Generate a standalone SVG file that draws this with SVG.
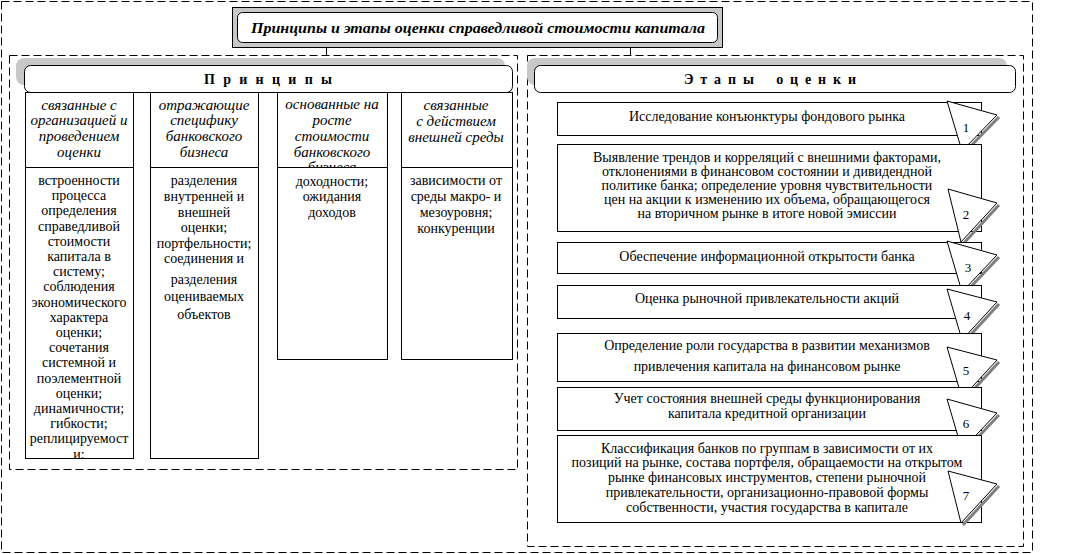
<svg xmlns="http://www.w3.org/2000/svg" width="1076" height="554" viewBox="0 0 1076 554">
<defs>
<style>
.dash{fill:none;stroke:#000;stroke-width:1;stroke-dasharray:8 4}
.box{fill:#fff;stroke:#000;stroke-width:1}
.shadow{fill:#c8c8c8;stroke:none}
.t{font-family:"Liberation Serif","Times New Roman",serif;font-size:14px;fill:#000;text-anchor:middle}
.it{font-family:"Liberation Serif","Times New Roman",serif;font-style:italic;font-size:15px;fill:#000;text-anchor:middle}
.hd{font-family:"Liberation Serif","Times New Roman",serif;font-weight:bold;font-size:14px;fill:#000;text-anchor:middle}
.num{font-family:"Liberation Serif","Times New Roman",serif;font-size:13px;fill:#000;text-anchor:middle}
.tri{fill:#fff;stroke:#000;stroke-width:1}
.trs{fill:none;stroke:#808080;stroke-width:3}
.conn{stroke:#000;stroke-width:1;fill:none}
</style>
<clipPath id="c3h"><rect x="277" y="92" width="110" height="75"/></clipPath>
<clipPath id="c1b"><rect x="25" y="167" width="108" height="292"/></clipPath>
</defs>

<g id="frames">
<rect class="dash" x="1.5" y="1.5" width="1031" height="551"/>
<rect class="dash" x="9.5" y="55.5" width="508" height="414"/>
<rect class="dash" x="527.5" y="55.5" width="496" height="491"/>
</g>

<g id="title">
<rect x="232.5" y="7.5" width="490" height="40" fill="#c8c8c8" stroke="#000"/>
<rect class="box" x="237.5" y="12.5" width="480" height="30" rx="5"/>
<text x="478" y="33" font-family="Liberation Serif, Times New Roman, serif" font-weight="bold" font-style="italic" font-size="15" text-anchor="middle" textLength="454" lengthAdjust="spacingAndGlyphs">Принципы и этапы оценки справедливой стоимости капитала</text>
</g>

<g id="connectors">
<line class="conn" x1="326.5" y1="47" x2="326.5" y2="55"/>
<line class="conn" x1="630.5" y1="47" x2="630.5" y2="55"/>
</g>

<g id="principles-header">
<rect class="shadow" x="16" y="58" width="489" height="27" rx="8"/>
<rect class="box" x="24.5" y="65.5" width="488" height="27" rx="6"/>
<text class="hd" x="268" y="84" textLength="128" lengthAdjust="spacing">П р и н ц и п ы</text>
</g>

<g id="principle-1">
<rect class="box" x="25.5" y="92.5" width="108" height="75"/>
<rect class="box" x="25.5" y="167.5" width="108" height="291"/>
<text class="it" x="79" y="110">связанные с</text>
<text class="it" x="79" y="125">организацией и</text>
<text class="it" x="79" y="141">проведением</text>
<text class="it" x="79" y="157">оценки</text>
<g clip-path="url(#c1b)">
<text class="t" x="79" y="185">встроенности</text>
<text class="t" x="79" y="200.2">процесса</text>
<text class="t" x="79" y="215.4">определения</text>
<text class="t" x="79" y="230.6">справедливой</text>
<text class="t" x="79" y="245.8">стоимости</text>
<text class="t" x="79" y="261">капитала в</text>
<text class="t" x="79" y="276.2">систему;</text>
<text class="t" x="79" y="291.4">соблюдения</text>
<text class="t" x="79" y="306.6">экономического</text>
<text class="t" x="79" y="321.8">характера</text>
<text class="t" x="79" y="337">оценки;</text>
<text class="t" x="79" y="352.2">сочетания</text>
<text class="t" x="79" y="367.4">системной и</text>
<text class="t" x="79" y="382.6">поэлементной</text>
<text class="t" x="79" y="397.8">оценки;</text>
<text class="t" x="79" y="413">динамичности;</text>
<text class="t" x="79" y="428.2">гибкости;</text>
<text class="t" x="79" y="443.4">реплицируемост</text>
<text class="t" x="79" y="458.6">и;</text>
</g>
</g>

<g id="principle-2">
<rect class="box" x="150.5" y="92.5" width="108" height="75"/>
<rect class="box" x="150.5" y="167.5" width="108" height="291"/>
<text class="it" x="204" y="110">отражающие</text>
<text class="it" x="204" y="125">специфику</text>
<text class="it" x="204" y="141">банковского</text>
<text class="it" x="204" y="157">бизнеса</text>
<text class="t" x="204" y="185">разделения</text>
<text class="t" x="204" y="201">внутренней и</text>
<text class="t" x="204" y="217">внешней</text>
<text class="t" x="204" y="232">оценки;</text>
<text class="t" x="204" y="248">портфельности;</text>
<text class="t" x="204" y="263">соединения и</text>
<text class="t" x="204" y="284">разделения</text>
<text class="t" x="204" y="301">оцениваемых</text>
<text class="t" x="204" y="319">объектов</text>
</g>

<g id="principle-3">
<rect class="box" x="277.5" y="92.5" width="110" height="75"/>
<rect class="box" x="277.5" y="167.5" width="110" height="192"/>
<g clip-path="url(#c3h)">
<text class="it" x="332" y="109">основанные на</text>
<text class="it" x="332" y="125">росте</text>
<text class="it" x="332" y="141">стоимости</text>
<text class="it" x="332" y="157">банковского</text>
<text class="it" x="332" y="172">бизнеса</text>
</g>
<text class="t" x="332" y="186">доходности;</text>
<text class="t" x="332" y="201">ожидания</text>
<text class="t" x="332" y="217">доходов</text>
</g>

<g id="principle-4">
<rect class="box" x="401.5" y="92.5" width="111" height="75"/>
<rect class="box" x="401.5" y="167.5" width="111" height="192"/>
<text class="it" x="456" y="110">связанные</text>
<text class="it" x="456" y="126">с действием</text>
<text class="it" x="456" y="142">внешней среды</text>
<text class="t" x="456" y="185">зависимости от</text>
<text class="t" x="456" y="201">среды макро- и</text>
<text class="t" x="456" y="217">мезоуровня;</text>
<text class="t" x="456" y="233">конкуренции</text>
</g>

<g id="stages-header">
<rect class="shadow" x="527" y="58" width="480" height="27" rx="8"/>
<rect class="box" x="534.5" y="65.5" width="481" height="27" rx="6"/>
<text class="hd" x="770" y="84" textLength="172" lengthAdjust="spacing">Э т а п ы &#160; &#160;о ц е н к и</text>
</g>

<g id="stage-1">
<rect class="box" x="557.5" y="102.5" width="424" height="33"/>
<text class="t" x="767" y="121">Исследование конъюнктуры фондового рынка</text>
<polygon class="tri" points="947,101 997,115 962,151"/>
<line class="trs" x1="999" y1="117" x2="964" y2="153"/>
<text class="num" x="966" y="132">1</text>
</g>

<g id="stage-2">
<rect class="box" x="557.5" y="144.5" width="424" height="87"/>
<text class="t" x="767" y="162">Выявление трендов и корреляций с внешними факторами,</text>
<text class="t" x="767" y="176">отклонениями в финансовом состоянии и дивидендной</text>
<text class="t" x="767" y="190">политике банка; определение уровня чувствительности</text>
<text class="t" x="767" y="204">цен на акции к изменению их объема, обращающегося</text>
<text class="t" x="767" y="218">на вторичном рынке в итоге новой эмиссии</text>
<polygon class="tri" points="948,189 997,203 961,242"/>
<line class="trs" x1="999" y1="205" x2="963" y2="244"/>
<text class="num" x="966" y="219">2</text>
</g>

<g id="stage-3">
<rect class="box" x="557.5" y="242.5" width="424" height="31"/>
<text class="t" x="767" y="261">Обеспечение информационной открытости банка</text>
<polygon class="tri" points="947,241 997,255 962,292"/>
<line class="trs" x1="999" y1="257" x2="964" y2="294"/>
<text class="num" x="968" y="272">3</text>
</g>

<g id="stage-4">
<rect class="box" x="557.5" y="285.5" width="424" height="33"/>
<text class="t" x="767" y="303">Оценка рыночной привлекательности акций</text>
<polygon class="tri" points="947,289 997,302 962,340"/>
<line class="trs" x1="999" y1="304" x2="964" y2="342"/>
<text class="num" x="967" y="320">4</text>
</g>

<g id="stage-5">
<rect class="box" x="557.5" y="333.5" width="424" height="48"/>
<text class="t" x="767" y="350">Определение роли государства в развитии механизмов</text>
<text class="t" x="767" y="371">привлечения капитала на финансовом рынке</text>
<polygon class="tri" points="947,347 997,360 962,398"/>
<line class="trs" x1="999" y1="362" x2="964" y2="400"/>
<text class="num" x="966" y="375">5</text>
</g>

<g id="stage-6">
<rect class="box" x="557.5" y="387.5" width="424" height="43"/>
<text class="t" x="767" y="403">Учет состояния внешней среды функционирования</text>
<text class="t" x="767" y="418">капитала кредитной организации</text>
<polygon class="tri" points="947,399 997,413 962,450"/>
<line class="trs" x1="999" y1="415" x2="964" y2="452"/>
<text class="num" x="966" y="428">6</text>
</g>

<g id="stage-7">
<rect class="box" x="557.5" y="435.5" width="424" height="87"/>
<text class="t" x="767" y="453">Классификация банков по группам в зависимости от их</text>
<text class="t" x="767" y="467">позиций на рынке, состава портфеля, обращаемости на открытом</text>
<text class="t" x="767" y="482">рынке финансовых инструментов, степени рыночной</text>
<text class="t" x="767" y="497">привлекательности, организационно-правовой формы</text>
<text class="t" x="767" y="512">собственности, участия государства в капитале</text>
<polygon class="tri" points="948,471 997,484 961,523"/>
<line class="trs" x1="999" y1="486" x2="963" y2="525"/>
<text class="num" x="966" y="500">7</text>
</g>
</svg>
